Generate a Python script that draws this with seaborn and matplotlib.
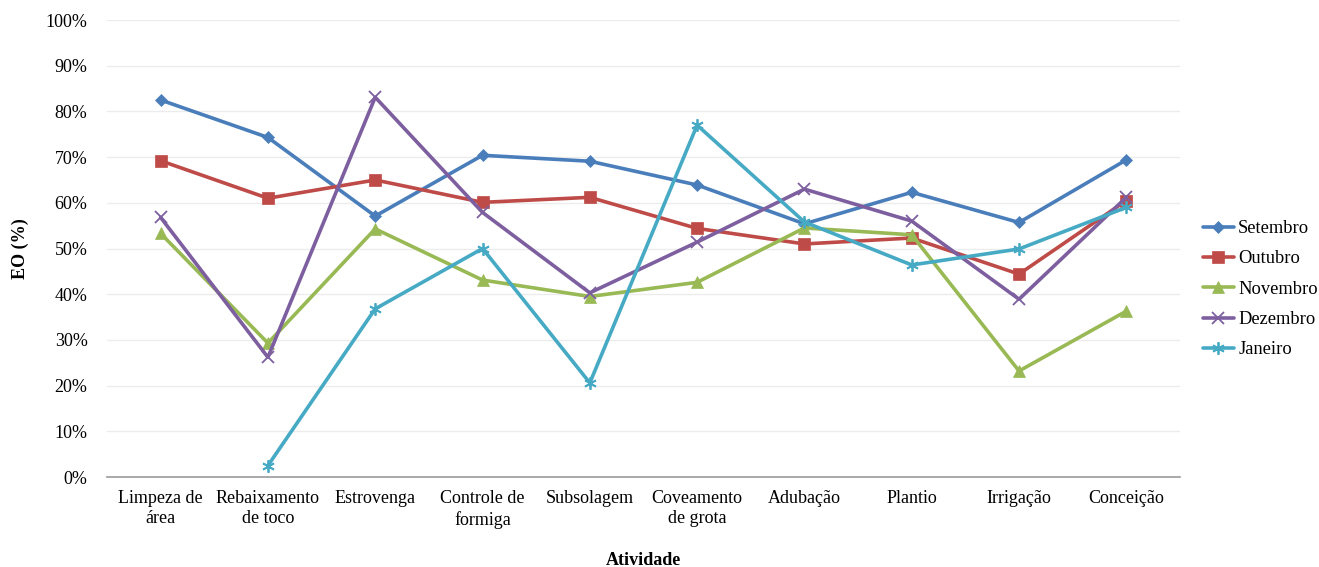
import numpy as np
import pandas as pd
import matplotlib
matplotlib.use("Agg")
import matplotlib.pyplot as plt
import seaborn as sns
from matplotlib.ticker import PercentFormatter, FixedLocator

atividades = ["Limpeza de\nárea", "Rebaixamento\nde toco", "Estrovenga", "Controle de\nformiga",
              "Subsolagem", "Coveamento\nde grota", "Adubação", "Plantio", "Irrigação", "Conceição"]

setembro = [82.5, 74.3, 57.1, 70.4, 69.1, 63.9, 55.4, 62.3, 55.7, 69.4]
outubro = [69.2, 61.0, 65.0, 60.1, 61.2, 54.4, 51.0, 52.3, 44.4, 60.5]
novembro = [53.3, 29.3, 54.3, 43.1, 39.5, 42.6, 54.5, 53.0, 23.2, 36.3]
dezembro = [56.8, 26.2, 83.1, 57.9, 40.3, 51.4, 63.0, 56.0, 38.9, 61.2]
janeiro = [np.nan, 2.5, 36.8, 50.0, 20.6, 77.0, 55.8, 46.4, 49.9, 59.0]

meses = ["Setembro", "Outubro", "Novembro", "Dezembro", "Janeiro"]
series = [setembro, outubro, novembro, dezembro, janeiro]
cores = ["#4A7EBB", "#BE4B48", "#98B954", "#7D5FA0", "#46AAC5"]
marcadores = ["D", "s", "^", "x", (6, 2, 0)]
tamanhos = [6.5, 8, 8, 8, 9]

rows = []
for mes, vals in zip(meses, series):
    for i, v in enumerate(vals):
        rows.append({"pos": i, "EO": v, "Mês": mes})
df = pd.DataFrame(rows)

sns.set_theme(style="white")
plt.rcParams["font.family"] = ["Liberation Serif", "DejaVu Serif"]
plt.rcParams["text.color"] = "black"
plt.rcParams["axes.labelcolor"] = "black"
plt.rcParams["xtick.color"] = "black"
plt.rcParams["ytick.color"] = "black"

fig = plt.figure(figsize=(13.19, 5.67), dpi=100)
ax = fig.add_axes([0.0811, 0.1587, 0.8135, 0.806])

for mes, cor, mk, ms in zip(meses, cores, marcadores, tamanhos):
    sub = df[df["Mês"] == mes].dropna()
    sns.lineplot(data=sub, x="pos", y="EO", ax=ax, color=cor, linewidth=2.6,
                 marker=mk, markersize=ms, markeredgecolor=cor,
                 markeredgewidth=1.3 if mk in ("x",) or isinstance(mk, tuple) else 0.5,
                 label=mes, sort=False, estimator=None)

ax.set_xlim(-0.5, len(atividades) - 0.5)
ax.set_ylim(0, 100)
ax.yaxis.set_major_locator(FixedLocator(np.arange(0, 101, 10)))
ax.yaxis.set_major_formatter(PercentFormatter(decimals=0))
ax.grid(axis="y", color="#ececec", linewidth=1.0)
ax.grid(axis="x", visible=False)
ax.set_axisbelow(True)

ax.set_xticks(range(len(atividades)))
ax.set_xticklabels(atividades, fontsize=13, linespacing=1.3)
ax.tick_params(axis="x", length=0, pad=9)
ax.set_xticks(np.arange(-0.5, len(atividades), 1), minor=True)
ax.tick_params(axis="x", which="minor", length=5, color="#9a9a9a", width=1, direction="out")
ax.tick_params(axis="y", length=0, labelsize=13, pad=14)

for s in ["top", "right", "left"]:
    ax.spines[s].set_visible(False)
ax.spines["bottom"].set_color("#9a9a9a")
ax.spines["bottom"].set_linewidth(1.2)

ax.set_xlabel("Atividade", fontsize=13, fontweight="bold")
ax.xaxis.set_label_coords(0.5, -0.182)
ax.xaxis.label.set_va("center")
ax.set_ylabel("EO (%)", fontsize=13, fontweight="bold", labelpad=12)

leg = ax.legend(loc="center left", bbox_to_anchor=(1.006, 0.411), frameon=False,
                fontsize=13.3, handlelength=1.65, handletextpad=0.25, labelspacing=0.72)

fig.savefig("out.png", dpi=100)
